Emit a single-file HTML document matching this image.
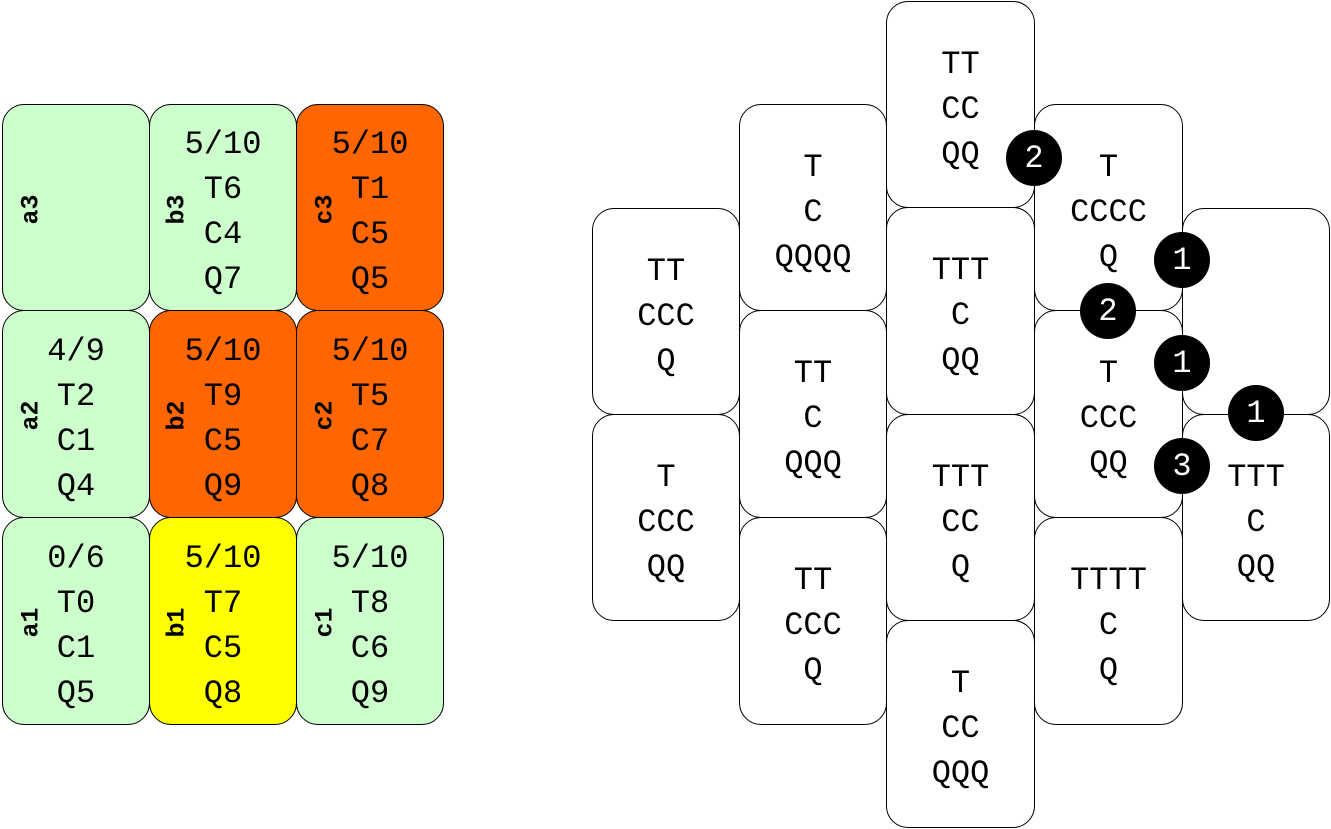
<!DOCTYPE html>
<html><head><style>
body{margin:0;width:1331px;height:829px;background:#fff;position:relative;overflow:hidden;font-family:"Liberation Mono",monospace;}
.b{position:absolute;box-sizing:border-box;border:1.5px solid #000;border-radius:22px;display:flex;flex-direction:column;justify-content:center;align-items:center;font-size:32px;line-height:45px;color:#000;padding-top:9px;}
.l{position:absolute;font-weight:bold;font-size:25px;transform:rotate(-90deg);transform-origin:center;width:40px;text-align:center;}
.c{position:absolute;width:56px;height:56px;border-radius:50%;background:#000;color:#fff;font-size:32px;display:flex;align-items:center;justify-content:center;}
.g{background:#ccffcc}.o{background:#ff6600}.y{background:#ffff00}
</style></head><body>
<div class="b g" style="left:2px;top:104px;width:148px;height:207px"></div>
<div class="b g" style="left:149px;top:104px;width:148px;height:207px"><div>5/10</div><div>T6</div><div>C4</div><div>Q7</div></div>
<div class="b o" style="left:296px;top:104px;width:148px;height:207px"><div>5/10</div><div>T1</div><div>C5</div><div>Q5</div></div>
<div class="b g" style="left:2px;top:310px;width:148px;height:208px"><div>4/9</div><div>T2</div><div>C1</div><div>Q4</div></div>
<div class="b o" style="left:149px;top:310px;width:148px;height:208px"><div>5/10</div><div>T9</div><div>C5</div><div>Q9</div></div>
<div class="b o" style="left:296px;top:310px;width:148px;height:208px"><div>5/10</div><div>T5</div><div>C7</div><div>Q8</div></div>
<div class="b g" style="left:2px;top:517px;width:148px;height:208px"><div>0/6</div><div>T0</div><div>C1</div><div>Q5</div></div>
<div class="b y" style="left:149px;top:517px;width:148px;height:208px"><div>5/10</div><div>T7</div><div>C5</div><div>Q8</div></div>
<div class="b g" style="left:296px;top:517px;width:148px;height:208px"><div>5/10</div><div>T8</div><div>C6</div><div>Q9</div></div>
<div class="l" style="left:11px;top:195px">a3</div>
<div class="l" style="left:157px;top:195px">b3</div>
<div class="l" style="left:305px;top:195px">c3</div>
<div class="l" style="left:11px;top:401px">a2</div>
<div class="l" style="left:157px;top:401px">b2</div>
<div class="l" style="left:305px;top:401px">c2</div>
<div class="l" style="left:11px;top:608px">a1</div>
<div class="l" style="left:157px;top:608px">b1</div>
<div class="l" style="left:305px;top:608px">c1</div>
<div class="b" style="left:592px;top:208px;width:148px;height:207px"><div>TT</div><div>CCC</div><div>Q</div></div>
<div class="b" style="left:592px;top:414px;width:148px;height:207px"><div>T</div><div>CCC</div><div>QQ</div></div>
<div class="b" style="left:739px;top:104px;width:148px;height:207px"><div>T</div><div>C</div><div>QQQQ</div></div>
<div class="b" style="left:739px;top:310px;width:148px;height:208px"><div>TT</div><div>C</div><div>QQQ</div></div>
<div class="b" style="left:739px;top:517px;width:148px;height:208px"><div>TT</div><div>CCC</div><div>Q</div></div>
<div class="b" style="left:886px;top:1px;width:149px;height:207px"><div>TT</div><div>CC</div><div>QQ</div></div>
<div class="b" style="left:886px;top:207px;width:149px;height:208px"><div>TTT</div><div>C</div><div>QQ</div></div>
<div class="b" style="left:886px;top:414px;width:149px;height:207px"><div>TTT</div><div>CC</div><div>Q</div></div>
<div class="b" style="left:886px;top:620px;width:149px;height:208px"><div>T</div><div>CC</div><div>QQQ</div></div>
<div class="b" style="left:1034px;top:104px;width:149px;height:207px"><div>T</div><div>CCCC</div><div>Q</div></div>
<div class="b" style="left:1034px;top:310px;width:149px;height:208px"><div>T</div><div>CCC</div><div>QQ</div></div>
<div class="b" style="left:1034px;top:517px;width:149px;height:208px"><div>TTTT</div><div>C</div><div>Q</div></div>
<div class="b" style="left:1182px;top:208px;width:148px;height:207px"></div>
<div class="b" style="left:1182px;top:414px;width:148px;height:207px"><div>TTT</div><div>C</div><div>QQ</div></div>
<div class="c" style="left:1006px;top:130px">2</div>
<div class="c" style="left:1154px;top:232px">1</div>
<div class="c" style="left:1080px;top:283px">2</div>
<div class="c" style="left:1154px;top:335px">1</div>
<div class="c" style="left:1228px;top:385px">1</div>
<div class="c" style="left:1154px;top:438px">3</div>
</body></html>
